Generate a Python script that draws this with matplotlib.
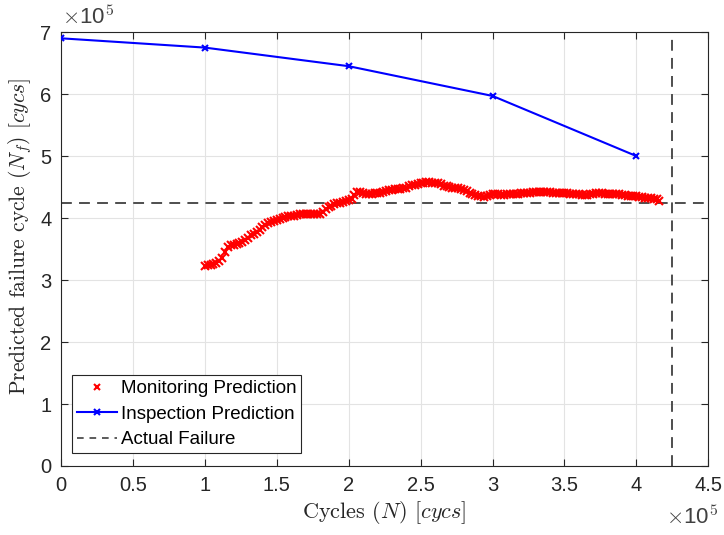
import numpy as np
import matplotlib
matplotlib.use("Agg")
import matplotlib.pyplot as plt
from matplotlib.ticker import FuncFormatter
from matplotlib.lines import Line2D

plt.rcParams['font.family'] = ['Liberation Sans', 'DejaVu Sans']
plt.rcParams['mathtext.fontset'] = 'cm'
plt.rcParams['axes.formatter.use_mathtext'] = True

# Inspection predictions
insp_cycles = [0, 100000, 200000, 300000, 400000]
insp_pred = [6.90e5, 6.75e5, 6.45e5, 5.97e5, 5.00e5]

# Monitoring predictions: predicted failure cycle (x1e5), one every 2000 cycles from 1e5
mon_pred_e5 = [
    3.22, 3.24, 3.25, 3.26, 3.27, 3.31, 3.35, 3.45, 3.53, 3.56,
    3.57, 3.58, 3.60, 3.62, 3.64, 3.68, 3.72, 3.74, 3.77, 3.81,
    3.86, 3.89, 3.92, 3.94, 3.96, 3.97, 3.99, 4.00, 4.02, 4.03,
    4.04, 4.04, 4.05, 4.06, 4.06, 4.06, 4.06, 4.07, 4.07, 4.06,
    4.07, 4.10, 4.14, 4.18, 4.20, 4.22, 4.24, 4.25, 4.26, 4.27,
    4.29, 4.31, 4.37, 4.42, 4.42, 4.40, 4.39, 4.38, 4.38, 4.40,
    4.41, 4.41, 4.42, 4.44, 4.45, 4.46, 4.47, 4.47, 4.47, 4.48,
    4.49, 4.51, 4.53, 4.54, 4.55, 4.56, 4.57, 4.58, 4.58, 4.57,
    4.57, 4.56, 4.55, 4.52, 4.51, 4.50, 4.49, 4.49, 4.48, 4.47,
    4.46, 4.43, 4.40, 4.38, 4.37, 4.36, 4.35, 4.34, 4.35, 4.37,
    4.38, 4.38, 4.38, 4.37, 4.37, 4.38, 4.38, 4.38, 4.39, 4.39,
    4.40, 4.40, 4.41, 4.41, 4.42, 4.42, 4.42, 4.42, 4.42, 4.42,
    4.42, 4.41, 4.41, 4.41, 4.40, 4.40, 4.40, 4.39, 4.39, 4.38,
    4.38, 4.37, 4.37, 4.37, 4.38, 4.39, 4.40, 4.40, 4.40, 4.39,
    4.39, 4.39, 4.39, 4.38, 4.38, 4.37, 4.37, 4.36, 4.36, 4.35,
    4.35, 4.34, 4.34, 4.33, 4.33, 4.32, 4.31, 4.30, 4.28,
]
mon_start = 100000
mon_step = 2000
mon_cycles = mon_start + mon_step * np.arange(len(mon_pred_e5))
mon_pred = np.array(mon_pred_e5) * 1e5

actual_failure = 4.25e5

x_ticks = [0, 0.5, 1, 1.5, 2, 2.5, 3, 3.5, 4, 4.5]
y_ticks = [0, 1, 2, 3, 4, 5, 6, 7]

fig = plt.figure(figsize=(7.24, 5.35), dpi=100)
ax = fig.add_axes([0.0843, 0.129, 0.894, 0.811])

ax.plot(mon_cycles, mon_pred, linestyle='none', marker='x', color='red',
        markersize=5.5, markeredgewidth=1.5, zorder=3)
ax.plot(insp_cycles, insp_pred, '-', color='#0000ff', marker='x', markersize=5,
        markeredgewidth=1.5, linewidth=1.5, zorder=4)
ax.axhline(actual_failure, color='#404040', linestyle=(0, (6, 4)), linewidth=1.3, zorder=2)
ax.axvline(actual_failure, color='#404040', linestyle=(0, (6, 4)), linewidth=1.3, zorder=2)

ax.set_xlim(0, 4.5e5)
ax.set_ylim(0, 7e5)
ax.set_xticks([t * 1e5 for t in x_ticks])
ax.set_yticks([t * 1e5 for t in y_ticks])
ax.xaxis.set_major_formatter(FuncFormatter(lambda v, p: f"{v/1e5:g}"))
ax.yaxis.set_major_formatter(FuncFormatter(lambda v, p: f"{v/1e5:g}"))

ax.tick_params(direction='in', top=True, right=True, labelsize=14.5, length=5,
               width=0.8, colors='#262626', pad=7)
for s in ax.spines.values():
    s.set_color('#262626')
    s.set_linewidth(0.8)
ax.grid(True, color='#e3e3e3', linewidth=0.8)
ax.set_axisbelow(True)

ax.set_xlabel(r'Cycles $(N)$ $[cycs]$', fontsize=16, family='cmr10',
              color='#262626', labelpad=3)
ax.set_ylabel(r'Predicted failure cycle $(N_f)$ $[cycs]$', fontsize=15.5,
              family='cmr10', color='#262626')
ax.yaxis.set_label_coords(-0.042, 0.53)

fig.text(0.085, 0.945, r'$\times$10$^5$', fontsize=16, color='#404040', ha='left', va='bottom',
         family='Liberation Sans')
fig.text(0.992, 0.012, r'$\times$10$^5$', fontsize=16, color='#404040', ha='right', va='bottom',
         family='Liberation Sans')

handles = [
    Line2D([], [], linestyle='none', marker='x', color='red', markersize=4.5, markeredgewidth=1.5),
    Line2D([], [], linestyle='-', color='#0000ff', marker='x', markersize=4.5,
           markeredgewidth=1.5, linewidth=1.5),
    Line2D([], [], linestyle=(0, (4, 3.5)), color='#404040', linewidth=1.2),
]
labels = ['Monitoring Prediction', 'Inspection Prediction', 'Actual Failure']
x0_px, y0_px = 72, 535 - 453
leg = ax.legend(handles, labels, loc='lower left',
                bbox_to_anchor=(x0_px / 724, y0_px / 535),
                bbox_transform=fig.transFigure, fontsize=13.5,
                frameon=True, fancybox=False, edgecolor='#262626', framealpha=1,
                handlelength=2.15, handletextpad=0.2, borderpad=0.25, labelspacing=0.45,
                numpoints=1, borderaxespad=0)
leg.get_frame().set_linewidth(0.8)

fig.savefig('out.png', dpi=100)
